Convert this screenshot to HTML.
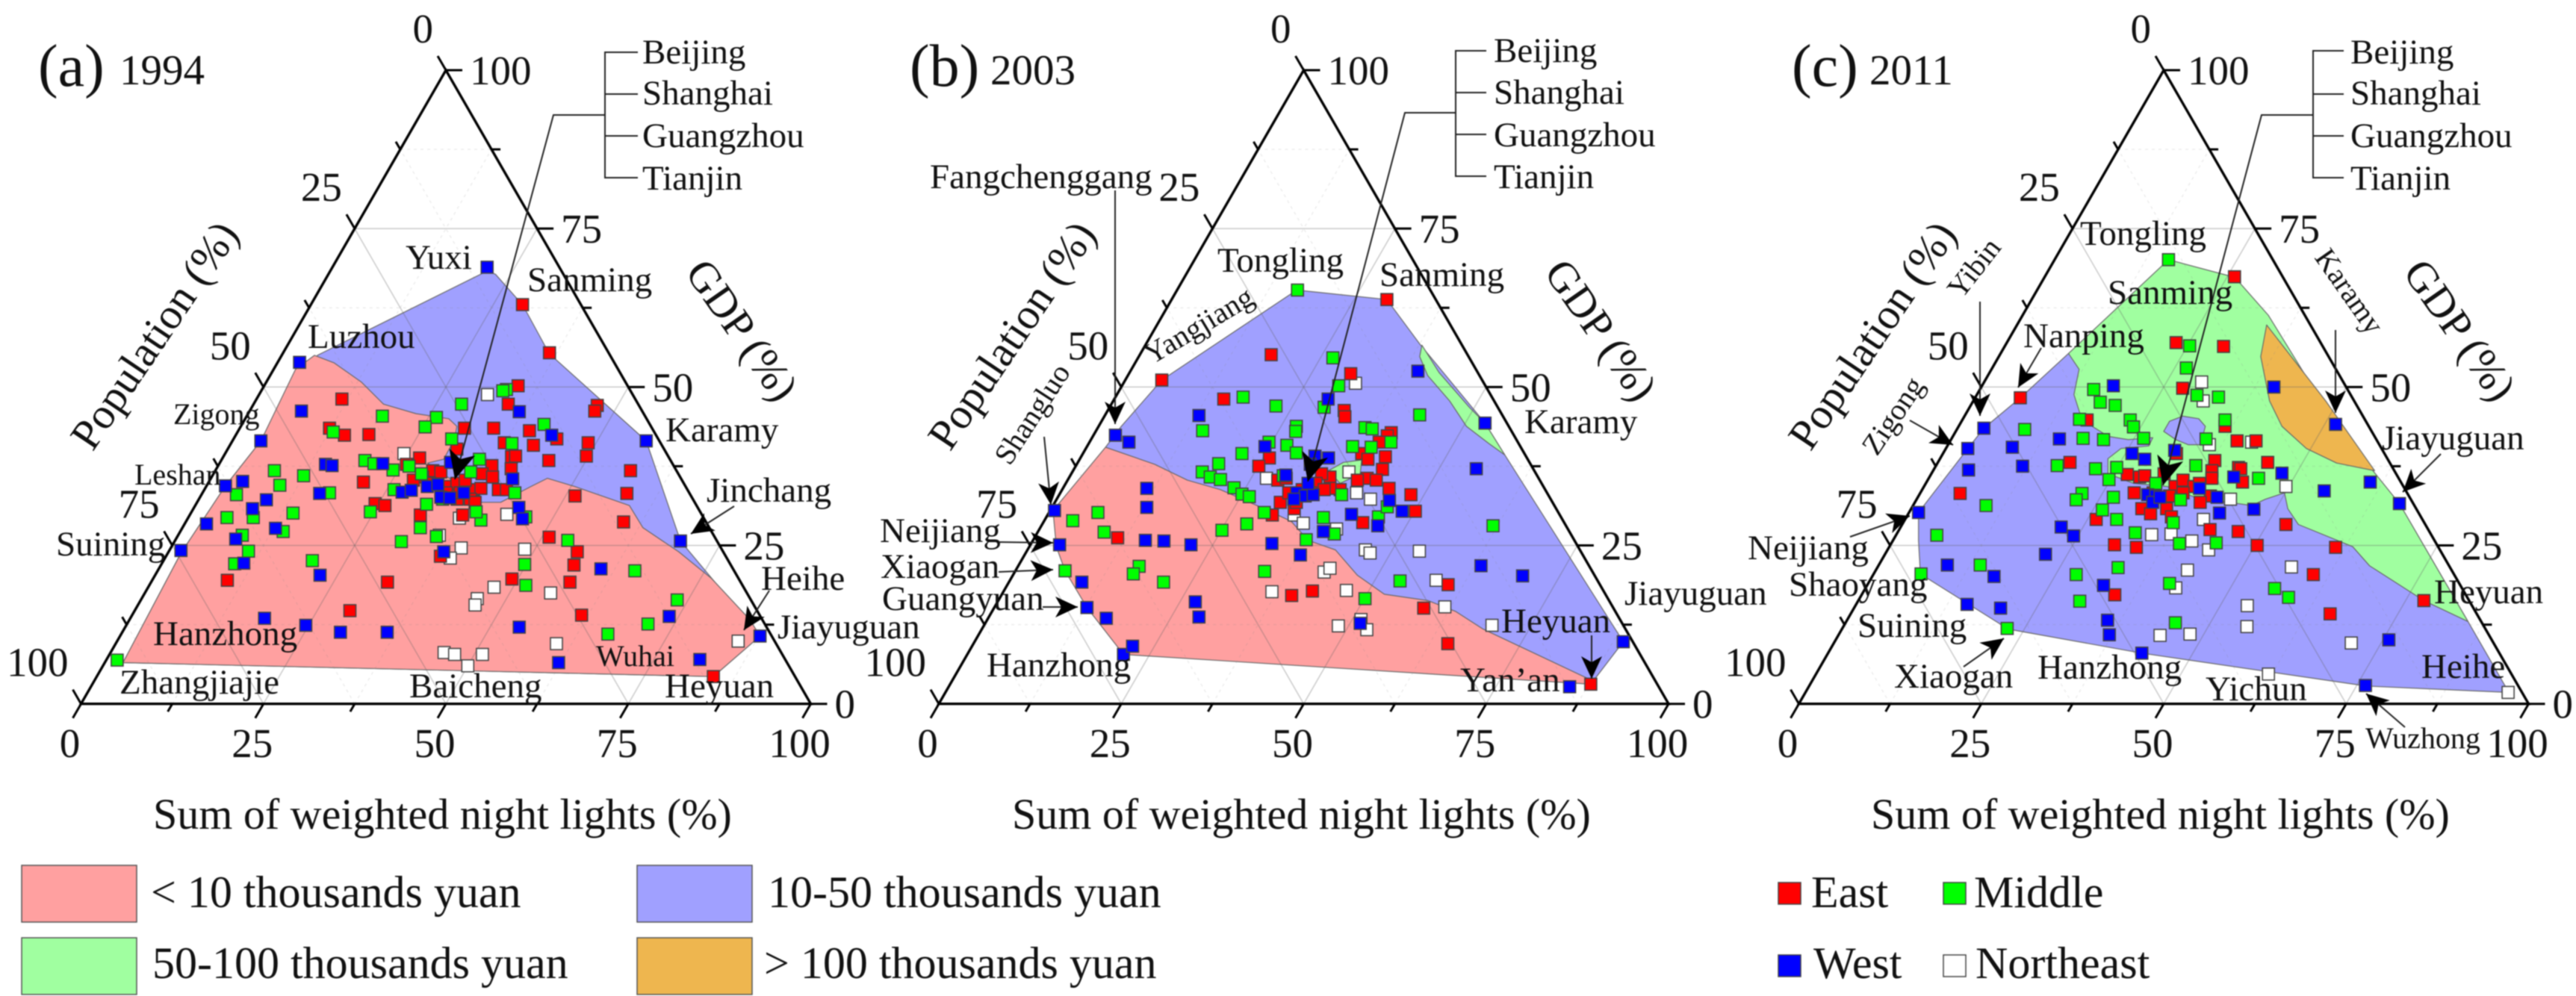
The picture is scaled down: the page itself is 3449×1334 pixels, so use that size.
<!DOCTYPE html>
<html lang="en">
<head>
<meta charset="utf-8">
<title>Ternary charts of night lights, population and GDP</title>
<style>
html,body{margin:0;padding:0;background:#fff;width:3449px;height:1334px;overflow:hidden}
svg{display:block;filter:blur(0.7px)}
text{font-family:"Liberation Serif",serif;fill:#111}
.city{font-size:47px}
.small{font-size:40px}
.title{font-size:58px}
.year{font-size:57px}
.letter{font-size:80px}
.legend{font-size:60px}
.tick-label{font-size:55px}
.ann{stroke:#222;stroke-width:2;fill:none}
</style>
</head>
<body>
<svg id="chart" xmlns="http://www.w3.org/2000/svg" width="3449" height="1334" viewBox="0 0 3449 1334">
<defs>
<marker id="arrow" markerUnits="userSpaceOnUse" markerWidth="34" markerHeight="28" refX="30" refY="14" orient="auto"><path d="M0,0 L30,14 L0,28 L8,14 Z" fill="#000"/></marker>
<marker id="arrow-large" markerUnits="userSpaceOnUse" markerWidth="42" markerHeight="36" refX="38" refY="18" orient="auto"><path d="M0,0 L38,18 L0,36 L10,18 Z" fill="#000"/></marker>
</defs>
<rect width="3449" height="1334" fill="#fff"/>
<g id="plots"></g>

<g>
<text class="letter" x="51" y="115">(a)</text>
<text class="year" x="160" y="113">1994</text>
<text class="title" x="205" y="1110">Sum of weighted night lights (%)</text>
<text class="title" transform="translate(124 606) rotate(-56)">Population (%)</text>
<text class="title" transform="translate(916 365) rotate(55)">GDP (%)</text>
<polyline class="ann" points="854,70 810,70 810,238 854,238"/>
<line class="ann" x1="810" y1="126" x2="854" y2="126"/>
<line class="ann" x1="810" y1="182" x2="854" y2="182"/>
<polyline class="ann" points="810,154 741,154 609,642" marker-end="url(#arrow-large)"/>
<text class="city" x="860" y="85">Beijing</text>
<text class="city" x="860" y="140">Shanghai</text>
<text class="city" x="860" y="197">Guangzhou</text>
<text class="city" x="860" y="254">Tianjin</text>
<text class="city" x="543" y="360">Yuxi</text>
<text class="city" x="706" y="390">Sanming</text>
<text class="city" x="412" y="466">Luzhou</text>
<text class="small" x="232" y="568">Zigong</text>
<text class="small" x="180" y="649">Leshan</text>
<text class="city" x="75" y="744">Suining</text>
<text class="city" x="891" y="591">Karamy</text>
<text class="city" x="946" y="672">Jinchang</text>
<text class="city" x="1019" y="790">Heihe</text>
<text class="city" x="1041" y="855">Jiayuguan</text>
<text class="city" x="205" y="864">Hanzhong</text>
<text class="city" x="160" y="929">Zhangjiajie</text>
<text class="city" x="548" y="934">Baicheng</text>
<text class="small" x="798" y="892">Wuhai</text>
<text class="city" x="890" y="934">Heyuan</text>
<line class="ann" x1="983" y1="678" x2="925" y2="715" marker-end="url(#arrow)"/>
<line class="ann" x1="1030" y1="791" x2="996" y2="844" marker-end="url(#arrow)"/>
</g>

<g>
<text class="letter" x="1218" y="115">(b)</text>
<text class="year" x="1326" y="113">2003</text>
<text class="title" x="1355" y="1110">Sum of weighted night lights (%)</text>
<text class="title" transform="translate(1272 606) rotate(-56)">Population (%)</text>
<text class="title" transform="translate(2066 365) rotate(55)">GDP (%)</text>
<polyline class="ann" points="1990,68 1949,68 1949,236 1990,236"/>
<line class="ann" x1="1949" y1="124" x2="1990" y2="124"/>
<line class="ann" x1="1949" y1="180" x2="1990" y2="180"/>
<polyline class="ann" points="1949,151 1881,151 1751,645" marker-end="url(#arrow-large)"/>
<text class="city" x="2000" y="83">Beijing</text>
<text class="city" x="2000" y="139">Shanghai</text>
<text class="city" x="2000" y="196">Guangzhou</text>
<text class="city" x="2000" y="252">Tianjin</text>
<text class="city" x="1245" y="252">Fangchenggang</text>
<text class="city" x="1630" y="364">Tongling</text>
<text class="city" x="1847" y="383">Sanming</text>
<text class="small" transform="translate(1542 489) rotate(-31)">Yangjiang</text>
<text class="small" transform="translate(1352 625) rotate(-57)">Shangluo</text>
<text class="city" x="2041" y="580">Karamy</text>
<text class="city" x="1178" y="726">Neijiang</text>
<text class="city" x="1179" y="774">Xiaogan</text>
<text class="city" x="1181" y="817">Guangyuan</text>
<text class="city" x="1321" y="906">Hanzhong</text>
<text class="city" x="2175" y="810">Jiayuguan</text>
<text class="city" x="2010" y="847">Heyuan</text>
<text class="city" x="1955" y="926">Yan’an</text>
<line class="ann" x1="1493" y1="255" x2="1493" y2="568" marker-end="url(#arrow)"/>
<line class="ann" x1="1398" y1="585" x2="1407" y2="676" marker-end="url(#arrow)"/>
<line class="ann" x1="1337" y1="726" x2="1410" y2="727" marker-end="url(#arrow)"/>
<line class="ann" x1="1337" y1="766" x2="1410" y2="763" marker-end="url(#arrow)"/>
<line class="ann" x1="1396" y1="813" x2="1443" y2="813" marker-end="url(#arrow)"/>
<line class="ann" x1="2131" y1="851" x2="2131" y2="909" marker-end="url(#arrow)"/>
</g>

<g>
<text class="letter" x="2399" y="115">(c)</text>
<text class="year" x="2503" y="113">2011</text>
<text class="title" x="2505" y="1110">Sum of weighted night lights (%)</text>
<text class="title" transform="translate(2424 606) rotate(-56)">Population (%)</text>
<text class="title" transform="translate(3216 365) rotate(55)">GDP (%)</text>
<polyline class="ann" points="3138,68 3097,68 3097,238 3138,238"/>
<line class="ann" x1="3097" y1="126" x2="3138" y2="126"/>
<line class="ann" x1="3097" y1="182" x2="3138" y2="182"/>
<polyline class="ann" points="3097,154 3028,154 2896,650" marker-end="url(#arrow-large)"/>
<text class="city" x="3147" y="85">Beijing</text>
<text class="city" x="3147" y="140">Shanghai</text>
<text class="city" x="3147" y="197">Guangzhou</text>
<text class="city" x="3147" y="254">Tianjin</text>
<text class="city" x="2785" y="328">Tongling</text>
<text class="city" x="2822" y="407">Sanming</text>
<text class="city" x="2709" y="465">Nanping</text>
<text class="small" transform="translate(2626 402) rotate(-52)">Yibin</text>
<text class="small" transform="translate(2513 612) rotate(-56)">Zigong</text>
<text class="small" transform="translate(3098 345) rotate(55)">Karamy</text>
<text class="city" x="3189" y="602">Jiayuguan</text>
<text class="city" x="2340" y="749">Neijiang</text>
<text class="city" x="2395" y="798">Shaoyang</text>
<text class="city" x="2487" y="853">Suining</text>
<text class="city" x="2536" y="921">Xiaogan</text>
<text class="city" x="2728" y="909">Hanzhong</text>
<text class="city" x="2953" y="938">Yichun</text>
<text class="small" x="3167" y="1002">Wuzhong</text>
<text class="city" x="3259" y="808">Heyuan</text>
<text class="city" x="3242" y="908">Heihe</text>
<line class="ann" x1="2733" y1="466" x2="2702" y2="519" marker-end="url(#arrow)"/>
<line class="ann" x1="2651" y1="404" x2="2651" y2="557" marker-end="url(#arrow)"/>
<line class="ann" x1="2557" y1="563" x2="2615" y2="596" marker-end="url(#arrow)"/>
<line class="ann" x1="3127" y1="442" x2="3127" y2="553" marker-end="url(#arrow)"/>
<line class="ann" x1="3268" y1="608" x2="3217" y2="659" marker-end="url(#arrow)"/>
<line class="ann" x1="2477" y1="719" x2="2557" y2="691" marker-end="url(#arrow)"/>
<line class="ann" x1="2629" y1="893" x2="2683" y2="855" marker-end="url(#arrow)"/>
<line class="ann" x1="3220" y1="974" x2="3168" y2="929" marker-end="url(#arrow)"/>
</g>

<g>
<rect x="29" y="1159" width="154" height="76" fill="#ffa0a0" stroke="#555" stroke-width="1.5"/>
<text class="legend" x="202" y="1215">&lt; 10 thousands yuan</text>
<rect x="853" y="1159" width="154" height="76" fill="#a0a0ff" stroke="#555" stroke-width="1.5"/>
<text class="legend" x="1028" y="1215">10-50 thousands yuan</text>
<rect x="29" y="1256" width="154" height="76" fill="#a0ffa0" stroke="#555" stroke-width="1.5"/>
<text class="legend" x="204" y="1310">50-100 thousands yuan</text>
<rect x="853" y="1256" width="154" height="76" fill="#eeb64f" stroke="#555" stroke-width="1.5"/>
<text class="legend" x="1023" y="1310">&gt; 100 thousands yuan</text>
</g>

<g>
<rect x="2381" y="1182" width="30" height="29" fill="#f00" stroke="#444" stroke-width="1.5"/>
<text class="legend" x="2425" y="1215">East</text>
<rect x="2602" y="1182" width="30" height="29" fill="#0f0" stroke="#444" stroke-width="1.5"/>
<text class="legend" x="2643" y="1215">Middle</text>
<rect x="2381" y="1279" width="30" height="29" fill="#00f" stroke="#444" stroke-width="1.5"/>
<text class="legend" x="2428" y="1310">West</text>
<rect x="2602" y="1279" width="30" height="29" fill="#fff" stroke="#444" stroke-width="1.5"/>
<text class="legend" x="2645" y="1310">Northeast</text>
</g>
</svg>

<script>
/* All points are [sum of weighted night lights %, GDP %]; population % is the remainder. */
const tickValues = [0, 25, 50, 75, 100];
const tickStrings = ["0", "25", "50", "75", "100"];
const minorTickValues = [12.5, 37.5, 62.5, 87.5];

const panelAEast = [[29,63],[36.5,55.4],[34.8,50.2],[11.7,48.1],[47.2,47.1],[47.3,46.2],[34.9,47.3],[12.3,43.5],[14.9,42.4],[18.2,42.5],[30.8,43.5],[34.8,43.5],[39.9,43.1],[44.3,41.8],[37.4,41.2],[41.6,40.8],[48.9,41.2],[49.7,39.1],[44.9,38.4],[31.4,40.2],[27,38.8],[39.5,39],[40,39.1],[40.4,37.1],[37.5,37.6],[56.9,36.8],[58.2,33.2],[51.3,32.8],[60,28.7],[21.2,35],[25.7,37.8],[24.5,31.6],[26,31.3],[31.6,29.8],[37.4,29.8],[40.3,33.8],[41.4,33.8],[51,26.3],[56,24],[56.6,21.9],[57.4,19.2],[49.2,19.7],[32.4,19.2],[37.6,23.3],[10.3,19.5],[29.5,14.7],[61.6,14],[84.5,4.3],[29.8,36.8],[31,36.6],[28.9,35.8],[27.9,35.3],[30.4,34.8],[33.2,34.3],[34.1,34.8],[35.5,34.3],[36.9,33.8],[36.8,36.3],[37.8,34],[38.5,35.8],[37.2,32.3],[35.4,32.3],[33.4,33.3],[35,35.3],[38.1,31.8],[35.3,33.3]];
const panelAMiddle = [[1.5,6.9],[28.5,47.3],[33.5,49.6],[33.1,49.4],[18.6,45.4],[26.1,45.2],[25.3,43.7],[13.1,42.9],[29.9,41.8],[41.4,44.1],[38.5,41.1],[19.7,38.4],[21.2,37.9],[24.3,36.9],[26.2,37.5],[35.3,38.6],[8.1,36.8],[12.5,36],[10,34.5],[4.8,33],[17.4,33.3],[26,33.8],[14,30.1],[5.3,29.4],[8.9,29.4],[24.5,30.3],[31.6,31.5],[32.6,27.8],[14.1,27.2],[8.8,26.6],[31.1,25.6],[35.5,26.4],[40.3,29],[46.2,29.5],[10.9,24.1],[53.8,25.8],[10,22.1],[20.4,22.6],[49.8,22],[65.4,21],[51.6,18.7],[73.5,16.4],[71.4,12.6],[66.7,11],[42.8,33.3],[33.4,32.3],[28.5,36.3],[35.1,36.6],[39,30.3]];
const panelAWest = [[21.2,68.9],[3,53.9],[7.1,46.2],[37,46.1],[43.3,42.4],[56.7,41.5],[3.9,41.5],[14.6,37.8],[15.6,37.6],[22.4,37.9],[31.6,38.1],[41.4,35.5],[2.6,34.4],[4.6,35.1],[16.1,33.2],[9.3,32.2],[27.3,33.4],[28.4,33.7],[30.3,34.3],[31.6,34.6],[33,32.6],[34.3,32.5],[35.8,33.3],[8.1,30.8],[3,28.4],[12.8,27.7],[8.2,26],[1.6,24.2],[11.2,22.2],[22.6,20.3],[44.5,31],[45.9,29.2],[37.7,24],[69.3,25.7],[60.6,21.3],[18.4,13.5],[24.6,12.4],[29.9,11.3],[36.3,11.3],[54,12.1],[73.7,13.8],[62.2,6.5],[81.3,7],[87.7,10.7]];
const panelANortheast = [[31.3,48.8],[24.5,39.5],[43.4,29.9],[37.2,29.3],[39.8,24.6],[39.1,23],[48.6,24.4],[35.8,26.6],[47.4,18.4],[55.6,17.5],[46,16.6],[46.2,15.6],[60.4,9.5],[45.7,8.1],[47.3,7.8],[51.1,7.8],[50,6],[85.1,9.9]];
const panelARegionBlue = [[2.5,6.5],[1.8,23.8],[2.6,34.4],[3.9,41.5],[4.9,55],[21.5,68.3],[22.9,67.8],[29.1,62.9],[36.5,55.3],[56.7,41.5],[69.3,25.7],[87.7,10.7],[84.5,4.3]];
const panelARegionPink = [[2.5,6.5],[1.8,23.8],[2.6,34.4],[3.9,41.5],[3,52.8],[4.5,55],[7.8,53.8],[13,50.8],[17.8,47.3],[23,45.8],[27.9,45],[29.6,43.8],[30.3,41.8],[30.4,38.6],[28.5,38],[35.8,33.8],[39,31.8],[41.6,31.8],[44.5,34.3],[46.1,35.6],[50.5,34.3],[59.5,31.3],[63.1,27.8],[69.9,24],[76.5,19.8],[85,13.3],[87.7,10.7],[84.5,4.3]];

const panelBEast = [[29.5,63.8],[18,55.1],[30.4,52.1],[5,51.1],[15,48.1],[32.4,46.3],[33,45.3],[40.6,42.8],[40.3,42.3],[38.2,39.5],[39.5,38.6],[25.9,38.8],[25.1,37.5],[41.7,39],[42.3,37],[39.7,41.3],[44.7,34],[48.2,33],[40.9,35.6],[39.7,35.3],[42.3,35.3],[35.7,35.8],[38.1,33.8],[36.6,34],[50.1,30.4],[43.8,28.6],[30.9,31.8],[30.8,29.8],[33.3,30.8],[11.4,26.2],[60.4,18.8],[39.8,17.1],[42.3,17.8],[58.9,15.1],[65,9.5],[87.8,3.1],[34.3,36.3],[34.3,34.8],[32.9,33.8],[31.3,33.3],[28.8,35.3],[29.8,35.6],[33.1,31.8],[34.3,33.3],[35.9,33.8]];
const panelBMiddle = [[16.5,65.3],[26.7,54.6],[29.7,50.2],[17.5,48.4],[22.7,47],[29.4,46.8],[27.1,43.8],[27.4,43],[14.6,43.1],[43.1,45.6],[36.6,43.6],[37.7,43.4],[41.3,41.3],[36.4,40.6],[39,40.5],[24.6,41.3],[27.3,40.8],[29.2,39.6],[21.8,39.5],[19.4,37.9],[17.8,36.6],[19.3,35.8],[20.9,35.4],[23.4,34.1],[25,33.1],[26.2,32.7],[29.2,36],[29.5,30.2],[6.7,30.2],[3.9,28.9],[9.1,27.1],[25.1,27.4],[28,28.4],[38,29.4],[45.5,29.5],[45.9,31.1],[38.7,33],[37.4,25.9],[40.8,26.8],[61.9,28.1],[6.8,21],[16.6,21.7],[16.4,20.5],[21.2,19.2],[34.2,20.9],[53.5,19.4],[50.1,16.6]];
const panelBWest = [[39.4,52.5],[29.3,48.1],[12.9,45.5],[52.7,44.3],[3,42.4],[5.4,41.3],[24.4,40.6],[55.1,37.1],[29.5,36.1],[32,39.1],[34,38.8],[32,37.8],[11.5,34],[13,31],[0.6,30.5],[4,25.1],[15.4,25.8],[18,25.7],[22,25.1],[33,25.3],[37.8,23.5],[10,19.2],[12.7,15.2],[16.2,13.5],[21.4,7.8],[22,9.1],[27.1,16.1],[28.8,13.7],[41.6,29.9],[39.1,27.2],[46.1,28.1],[45.7,32.1],[48.3,30.4],[63.4,21.8],[69.9,20.2],[51.4,12.7],[88.9,9.8],[85.1,2.7],[32.4,33.3],[33.8,32.8],[34.8,33],[32.5,32.3],[33.2,34.8]];
const panelBNortheast = [[31.8,50.6],[27.1,35.6],[37.9,36.6],[40.6,33.3],[43,32.3],[33.8,29.8],[35.7,28.5],[40.7,27.6],[46.3,24.3],[47.2,23.8],[53.8,24.1],[42.4,20.8],[42.9,21.4],[58.4,19.5],[36.8,17.7],[46.9,17.9],[61.7,15.3],[51.2,13.3],[48.6,12.3],[52.8,11.7],[69.6,12.4]];
const panelBRegionBlue = [[2.6,40.5],[3.1,43.8],[5,51.1],[16.4,65.3],[29.5,63.8],[37.5,56.8],[52.7,44.3],[57.9,39.3],[88.9,9.8],[87.8,3.1],[43.6,10.8]];
const panelBRegionPink = [[2.6,40.5],[0.4,30.5],[3.7,24.8],[6.8,21],[12.7,15.2],[21.4,7.8],[87.8,3.1],[87.4,3.8],[68.7,11.8],[63.5,14.6],[58.9,16.3],[52.4,17.3],[47.2,20.3],[42.2,24.3],[37.7,25.8],[33.9,28.8],[29.2,30.8],[21.7,33.8],[16.4,35.3],[10.7,37.8]];
const panelBRegionGreenEdge = [[37.9,56.6],[42.4,52.3],[49.3,46.8],[52.7,44.3],[57.9,39.3],[54.8,41.1],[50.4,43.8],[46.1,47.8],[41.1,51.8],[38.5,54.8]];
const panelBRegionGreenCore = [[35,36.8],[36.4,38.1],[38.7,38.5],[39.6,36.3],[37.6,34.8]];

const panelCEast = [[26,67.4],[23.2,57],[30,56.4],[6.2,48.3],[27.7,49.8],[17.1,44.8],[39.3,41.5],[41.9,41.5],[36.5,43.8],[18.1,38.1],[32,39.5],[37.8,38.4],[45.2,38.1],[41.6,37.3],[42,37.1],[38.2,36.8],[38.8,35.6],[43.3,35],[5.5,33.2],[52.6,28.3],[46.6,27.2],[42.6,27.5],[26.2,29.1],[30.7,25.1],[33.9,24.7],[50.3,25],[61.2,24.7],[60.3,20.4],[34.7,17.2],[65.7,14.2],[77.5,16.3],[26.9,36.2],[28.8,35.8],[29.3,33.3],[31.6,30.8],[33.2,30],[35,30.8],[36.3,29.5],[34.4,34.3],[35,35.3],[37,34.3],[37.5,34.8],[40,32.8],[34.4,32.8],[31.9,36.3],[31.9,33.3],[29.4,36],[36,33.3],[39.1,31.8]];
const panelCMiddle = [[15.6,70.1],[25.3,56.5],[26.6,53],[30.2,48.7],[33.3,48.4],[15.6,49.6],[17.5,47.6],[19.8,47.1],[23,44.8],[24,43.7],[26.3,41.9],[36,44.8],[16,44.9],[20.9,41.7],[18,41.9],[9.3,43.3],[16.6,37.6],[22.1,37.1],[24.9,37.3],[24.8,35.4],[35.6,37.6],[34.9,41.8],[45.2,35.6],[10,31.3],[22.2,33.2],[21.9,32.2],[26.8,32.6],[26.3,30.6],[29,29.1],[36.2,32.2],[37,28.6],[32.6,27],[39.5,25.3],[44.5,25.4],[5.6,26.6],[6.5,20.5],[13.9,21.9],[33,21.5],[27.8,20.4],[30.4,16.2],[41.3,19],[45.2,12.8],[56.1,18.2],[58.7,16.8],[22.6,11.9],[31.5,34.8]];
const panelCWest = [[18,50.2],[40.1,50],[51.5,44.1],[3.6,43.5],[3,40.3],[4.8,36.9],[9,40.5],[14.8,41.8],[11.9,37.5],[1.3,30.2],[25.9,39.5],[28.1,38.6],[31.5,40],[41.7,35.8],[48,36.4],[60.8,35],[55.2,33.6],[66.5,31.6],[37.9,34],[41,32.6],[47,30.7],[42.6,30.1],[22,27.9],[24.4,26.5],[22,23.6],[9.4,21.9],[16.7,20.1],[15.2,15.7],[20.1,15.1],[32.4,18.7],[35.7,13.2],[37.1,10.9],[43,8],[76.2,2.9],[75.8,10.1],[31.3,33],[32.5,32.8],[32.6,31.8],[33.2,32.6]];
const panelCNortheast = [[29.8,50.8],[31.5,47.8],[41.4,41.3],[35.8,40.9],[43,32.3],[49.6,34.3],[40.9,29.1],[35,26.7],[37.6,26.8],[41,25.7],[44,24.3],[56.7,21.6],[42.7,21.1],[42.5,18.3],[53.7,15.5],[55.3,12.2],[44.1,10.8],[48.1,11],[70.9,9.6],[62,4.7],[96.3,1.8]];
const panelCRegionBlue = [[1.3,30.2],[3,40.3],[3.6,43.5],[6.2,48.3],[9.3,55.3],[26,60.8],[66.5,31.6],[85.2,13],[96.4,1.8],[76.4,2.8],[43,8],[22.8,11.8],[6.4,20.5],[3.5,25.8]];
const panelCRegionGreen = [[9.3,55.3],[15.6,70.1],[26.1,67.3],[33.7,61.3],[51.5,44.1],[66.5,31.6],[85.2,13],[77.5,16.3],[67.3,21.8],[63.5,24.8],[54.3,28.3],[51.6,30.8],[49.9,33.3],[47.8,32.3],[46.4,31.3],[43.1,31.8],[38.8,32.3],[33.3,34.3],[28.5,34.8],[24.2,36.3],[23,38.7],[24,40.3],[27.6,40.7],[27.5,42],[24.3,41.7],[21.3,42.2],[16.4,44.8],[13.3,48.8],[12,52.8]];
const panelCRegionIsland = [[28.5,43],[28.5,44.6],[29.9,45.4],[32.3,45],[33.8,43.8],[34.6,40.9],[32.9,40.9],[30.8,41.7]];
const panelCRegionOrange = [[34.2,59.8],[48.3,47.8],[60.5,36.8],[54.7,38],[49.4,40.3],[44.3,43.8],[40.6,47.8],[35.9,54.8]];

const SVG_NS = "http://www.w3.org/2000/svg";
const TOP_Y = 94;
const BOTTOM_Y = 942.7;
const SIDE = 977;
const plots = document.getElementById("plots");

function xScale(origin, lights, gdp) { return origin + SIDE * (lights + gdp / 2) / 100; }
function yScale(gdp) { return BOTTOM_Y - (BOTTOM_Y - TOP_Y) * gdp / 100; }

function make(tag, parent) {
  const node = document.createElementNS(SVG_NS, tag);
  parent.appendChild(node);
  return node;
}

function drawSegment(parent, origin, a, b, color, width, dash) {
  const line = make("line", parent);
  line.setAttribute("x1", xScale(origin, a[0], a[1]));
  line.setAttribute("y1", yScale(a[1]));
  line.setAttribute("x2", xScale(origin, b[0], b[1]));
  line.setAttribute("y2", yScale(b[1]));
  line.setAttribute("stroke", color);
  line.setAttribute("stroke-width", width);
  if (dash) line.setAttribute("stroke-dasharray", dash);
  
  
}

function drawRegion(parent, origin, vertices, fill, name) {
  const shape = make("polygon", parent);
  shape.setAttribute("points", vertices.map(function (v) {
    return xScale(origin, v[0], v[1]).toFixed(1) + "," + yScale(v[1]).toFixed(1);
  }).join(" "));
  shape.setAttribute("fill", fill);
  shape.setAttribute("stroke", "#666");
  shape.setAttribute("stroke-width", "1.2");
  shape.setAttribute("stroke-linejoin", "round");
  
  
}

function drawGrid(parent, origin) {
  function family(v, color, width, dash) {
    drawSegment(parent, origin, [0, v], [100 - v, v], color, width, dash);
    drawSegment(parent, origin, [v, 0], [v, 100 - v], color, width, dash);
    drawSegment(parent, origin, [100 - v, 0], [0, 100 - v], color, width, dash);
  }
  tickValues.slice(1, 4).forEach(function (v) { family(v, "rgba(100,100,100,0.32)", 1.6); });
  minorTickValues.forEach(function (v) { family(v, "rgba(130,130,130,0.16)", 1.4, "4 5"); });
}

function drawAxes(parent, origin) {
  const frame = make("polygon", parent);
  frame.setAttribute("points", xScale(origin, 0, 0) + "," + yScale(0) + " " + xScale(origin, 100, 0) + "," + yScale(0) + " " + xScale(origin, 0, 100) + "," + yScale(100));
  frame.setAttribute("fill", "none");
  frame.setAttribute("stroke", "#000");
  frame.setAttribute("stroke-width", "3.4");
  
  

  function tick(x, y, dx, dy, name) {
    const line = make("line", parent);
    line.setAttribute("x1", x);
    line.setAttribute("y1", y);
    line.setAttribute("x2", x + dx);
    line.setAttribute("y2", y + dy);
    line.setAttribute("stroke", "#000");
    line.setAttribute("stroke-width", "3");
    
    
  }
  function axisTicks(v, size) {
    const down = [-0.5 * size, 0.866 * size];
    const side = [-0.5 * size, -0.866 * size];
    tick(xScale(origin, v, 0), yScale(0), down[0], down[1], "bottom-axis-tick");
    tick(xScale(origin, 100 - v, v), yScale(v), size, 0, "gdp-axis-tick");
    tick(xScale(origin, 0, 100 - v), yScale(100 - v), side[0], side[1], "population-axis-tick");
  }
  tickValues.forEach(function (v) { axisTicks(v, 22); });
  minorTickValues.forEach(function (v) { axisTicks(v, 12); });

  function label(x, y, text, anchor, name) {
    const node = make("text", parent);
    node.setAttribute("x", x);
    node.setAttribute("y", y);
    node.setAttribute("class", "tick-label");
    node.setAttribute("text-anchor", anchor);
    node.textContent = text;
    
    
  }
  tickValues.forEach(function (v, i) {
    label(xScale(origin, v, 0) - 15, 1014, tickStrings[i], "middle", "bottom-axis-tick-label");
    label(xScale(origin, 100 - v, v) + 32, yScale(v) + 19, tickStrings[i], "start", "gdp-axis-tick-label");
    label(xScale(origin, 0, 100 - v) - 17, yScale(100 - v) - 37, tickStrings[i], "end", "population-axis-tick-label");
  });
}

function drawSeries(parent, origin, points, fill, name) {
  const size = 16;
  points.forEach(function (p) {
    const mark = make("rect", parent);
    mark.setAttribute("x", (xScale(origin, p[0], p[1]) - size / 2).toFixed(1));
    mark.setAttribute("y", (yScale(p[1]) - size / 2).toFixed(1));
    mark.setAttribute("width", size);
    mark.setAttribute("height", size);
    mark.setAttribute("fill", fill);
    mark.setAttribute("stroke", "#444");
    mark.setAttribute("stroke-width", "1.6");
    
    
  });
}

function drawPanel(origin, panelName, regions, northeast, east, middle, west) {
  const group = make("g", plots);
  
  
  regions.forEach(function (r) { drawRegion(group, origin, r[0], r[1], r[2]); });
  drawGrid(group, origin);
  drawAxes(group, origin);
  drawSeries(group, origin, northeast, "#ffffff", "point-northeast");
  drawSeries(group, origin, east, "#ff0000", "point-east");
  drawSeries(group, origin, middle, "#00ff00", "point-middle");
  drawSeries(group, origin, west, "#0000ff", "point-west");
}

const PINK = "#ffa0a0", BLUE = "#a0a0ff", GREEN = "#a0ffa0", ORANGE = "#eeb64f";

drawPanel(108.5, "panel-a-1994", [
  [panelARegionBlue, BLUE, "region-10-50-thousand"],
  [panelARegionPink, PINK, "region-under-10-thousand"]
], panelANortheast, panelAEast, panelAMiddle, panelAWest);

drawPanel(1257, "panel-b-2003", [
  [panelBRegionBlue, BLUE, "region-10-50-thousand"],
  [panelBRegionPink, PINK, "region-under-10-thousand"],
  [panelBRegionGreenEdge, GREEN, "region-50-100-thousand"],
  [panelBRegionGreenCore, GREEN, "region-50-100-thousand"]
], panelBNortheast, panelBEast, panelBMiddle, panelBWest);

drawPanel(2408.5, "panel-c-2011", [
  [panelCRegionBlue, BLUE, "region-10-50-thousand"],
  [panelCRegionGreen, GREEN, "region-50-100-thousand"],
  [panelCRegionIsland, BLUE, "region-10-50-thousand"],
  [panelCRegionOrange, ORANGE, "region-over-100-thousand"]
], panelCNortheast, panelCEast, panelCMiddle, panelCWest);
</script>
</body>
</html>
